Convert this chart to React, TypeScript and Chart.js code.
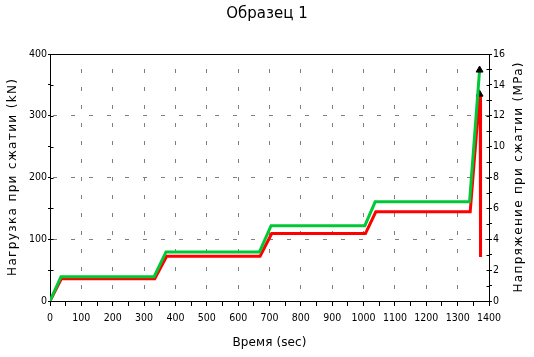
import React, { useEffect, useRef } from "react";
import { Chart, registerables } from "chart.js";

Chart.register(...registerables);

const TITLE = "Образец 1";
const X_TITLE = "Время (sec)";
const Y_LEFT_TITLE = "Нагрузка при сжатии (kN)";
const Y_RIGHT_TITLE = "Напряжение при сжатии (MPa)";

// Load (kN) series, green
const TIME_LOAD = [0, 35, 332, 370, 668, 705, 1004, 1037, 1338, 1370];
const LOAD_KN = [0, 39.4, 39.4, 79.4, 79.4, 122, 122, 160.6, 160.6, 374];
// Stress (MPa) series, red
const TIME_STRESS = [0, 36, 334, 372, 670, 707, 1006, 1039, 1340, 1370, 1372, 1373];
const STRESS_MPA = [0, 1.44, 1.44, 2.9, 2.9, 4.37, 4.37, 5.78, 5.78, 13.4, 13.3, 2.85];
const PEAK_LOAD_INDEX = 9;
const PEAK_STRESS_INDEX = 9;

const X_MIN = 0, X_MAX = 1400, X_STEP = 50, X_LABEL_STEP = 100;
const YL_MIN = 0, YL_MAX = 400, YL_STEP = 50, YL_LABEL_STEP = 100;
const YR_MIN = 0, YR_MAX = 16, YR_STEP = 1, YR_LABEL_STEP = 2;

const FONT = "DejaVu Sans";
const TICK_FONT = "DejaVu Sans Condensed, DejaVu Sans";

function drawSpaced(ctx: CanvasRenderingContext2D, text: string, cx: number, cy: number, rot: number, target: number, font: string) {
  ctx.save();
  ctx.font = font;
  (ctx as any).letterSpacing = "0px";
  const w = ctx.measureText(text).width;
  const n = text.length;
  const ls = n > 1 ? (target - w) / (n - 1) : 0;
  (ctx as any).letterSpacing = ls + "px";
  ctx.translate(cx, cy);
  ctx.rotate(rot);
  ctx.textAlign = "left";
  ctx.textBaseline = "middle";
  ctx.fillStyle = "#000";
  ctx.fillText(text, -target / 2, 0);
  ctx.restore();
}

const framePlugin = {
  id: "frame",
  beforeDatasetsDraw(chart: any) {
    const { ctx, chartArea } = chart;
    const l = Math.round(chartArea.left) + 0.5;
    const r = Math.round(chartArea.right) + 0.5;
    const t = Math.round(chartArea.top) + 0.5;
    const b = Math.round(chartArea.bottom) + 0.5;
    ctx.save();
    ctx.strokeStyle = "#000";
    ctx.lineWidth = 1;
    ctx.beginPath();
    ctx.rect(l, t, r - l, b - t);
    ctx.stroke();
    const yl = chart.scales.y;
    const yr = chart.scales.y2;
    ctx.beginPath();
    yl.ticks.forEach((tk: any) => {
      const py = Math.round(yl.getPixelForValue(tk.value)) + 0.5;
      ctx.moveTo(l, py);
      ctx.lineTo(l + 3, py);
    });
    yr.ticks.forEach((tk: any) => {
      const py = Math.round(yr.getPixelForValue(tk.value)) + 0.5;
      ctx.moveTo(r, py);
      ctx.lineTo(r - 3, py);
    });
    ctx.stroke();
    ctx.restore();
  },
  afterDraw(chart: any) {
    const { ctx, chartArea } = chart;
    const cy = (chartArea.top + chartArea.bottom) / 2;
    const font = `12px "${FONT}"`;
    drawSpaced(ctx, Y_LEFT_TITLE, 12.5, cy, -Math.PI / 2, 197, font);
    drawSpaced(ctx, Y_RIGHT_TITLE, 519, cy, -Math.PI / 2, 230, font);
    drawSpaced(ctx, X_TITLE, (chartArea.left + chartArea.right) / 2, 342.5, 0, 74, font);
  },
};

export default function App() {
  const ref = useRef<HTMLCanvasElement | null>(null);
  useEffect(() => {
    if (!ref.current) return;
    const loadData = TIME_LOAD.map((t, i) => ({ x: t, y: LOAD_KN[i] }));
    const stressData = TIME_STRESS.map((t, i) => ({ x: t, y: STRESS_MPA[i] }));
    const gridColor = (c: any) => {
      const v = c.tick ? c.tick.value : 0;
      return v % X_LABEL_STEP === 0 && v !== X_MIN && v !== X_MAX ? "#7f7f7f" : "rgba(0,0,0,0)";
    };
    const gridColorY = (c: any) => {
      const v = c.tick ? c.tick.value : 0;
      return v % YL_LABEL_STEP === 0 && v !== YL_MIN && v !== YL_MAX ? "#7f7f7f" : "rgba(0,0,0,0)";
    };
    const tickFont = { family: TICK_FONT, size: 10.5 };
    const chart = new Chart(ref.current, {
      type: "line",
      data: {
        datasets: [
          {
            label: "Load",
            data: loadData,
            yAxisID: "y",
            borderColor: "#00c837",
            backgroundColor: "#000",
            borderWidth: 3,
            tension: 0,
            pointStyle: "triangle",
            pointRadius: loadData.map((_, i) => (i === PEAK_LOAD_INDEX ? 4 : 0)),
            pointBackgroundColor: "#000",
            pointBorderColor: "#000",
            pointBorderWidth: 1,
          },
          {
            label: "Stress",
            data: stressData,
            yAxisID: "y2",
            borderColor: "#ff0000",
            backgroundColor: "#000",
            borderWidth: 3,
            tension: 0,
            pointStyle: "triangle",
            pointRadius: stressData.map((_, i) => (i === PEAK_STRESS_INDEX ? 4 : 0)),
            pointBackgroundColor: "#000",
            pointBorderColor: "#000",
            pointBorderWidth: 1,
          },
        ],
      },
      options: {
        responsive: false,
        animation: false,
        events: [],
        layout: { padding: 0 },
        plugins: {
          legend: { display: false },
          tooltip: { enabled: false },
          title: {
            display: true,
            text: TITLE,
            color: "#000",
            font: { family: FONT, size: 15, weight: "normal", lineHeight: 1.2 },
            padding: { top: 5, bottom: 31 },
          },
        },
        scales: {
          x: {
            type: "linear",
            min: X_MIN,
            max: X_MAX,
            afterFit: (s: any) => { s.height = 56; },
            ticks: {
              stepSize: X_STEP,
              autoSkip: false,
              maxRotation: 0,
              minRotation: 0,
              color: "#000",
              padding: 6,
              font: tickFont,
              callback: (v: any) => (Number(v) % X_LABEL_STEP === 0 ? String(v) : ""),
            },
            grid: { color: gridColor, tickColor: "#000", tickLength: 5, tickWidth: 1, lineWidth: 1 },
            border: { color: "#000", width: 1, dash: [4, 14], dashOffset: 3 },
          },
          y: {
            type: "linear",
            position: "left",
            min: YL_MIN,
            max: YL_MAX,
            afterFit: (s: any) => { s.width = 50; },
            ticks: {
              stepSize: YL_STEP,
              autoSkip: false,
              color: "#000",
              padding: 1,
              font: tickFont,
              callback: (v: any) => (Number(v) % YL_LABEL_STEP === 0 ? String(v) : ""),
            },
            grid: { color: gridColorY, tickColor: "#000", tickLength: 2, tickWidth: 1, lineWidth: 1 },
            border: { color: "#000", width: 1, dash: [4, 14], dashOffset: 16 },
          },
          y2: {
            type: "linear",
            position: "right",
            min: YR_MIN,
            max: YR_MAX,
            afterFit: (s: any) => { s.width = 45; },
            ticks: {
              stepSize: YR_STEP,
              autoSkip: false,
              color: "#000",
              padding: 1,
              font: tickFont,
              callback: (v: any) => (Number(v) % YR_LABEL_STEP === 0 ? String(v) : ""),
            },
            grid: { drawOnChartArea: false, tickColor: "#000", tickLength: 3, tickWidth: 1 },
            border: { color: "#000", width: 1 },
          },
        },
      },
      plugins: [framePlugin],
    } as any);
    return () => chart.destroy();
  }, []);
  return (
    <div style={{ position: "fixed", left: 0, top: 0, width: 534, height: 357, background: "#fff" }}>
      <canvas ref={ref} width={534} height={357} style={{ display: "block", width: 534, height: 357 }} />
    </div>
  );
}
